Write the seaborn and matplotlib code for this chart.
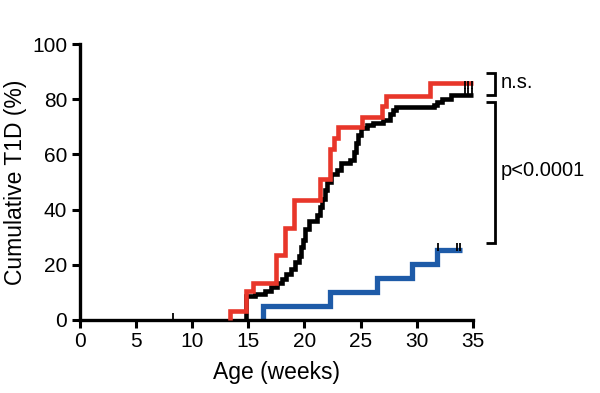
import numpy as np
import pandas as pd
import matplotlib
matplotlib.use("Agg")
import matplotlib.pyplot as plt
import seaborn as sns

# ---- data ----
red_weeks = [13.4, 13.4, 14.8, 15.4, 17.5, 18.3, 19.1, 21.4, 22.3, 22.6, 23.0, 25.1, 26.9, 27.3, 31.2, 35.0]
red_pct   = [0.0, 3.4, 10.3, 13.4, 23.5, 33.2, 43.3, 51.0, 62.0, 66.0, 70.0, 73.5, 77.5, 81.0, 85.8, 85.8]

black_weeks = [14.8, 14.8, 15.6, 16.5, 17.0, 17.6, 18.0, 18.4, 18.8, 19.2, 19.5, 19.7, 19.9, 20.1, 20.4,
               21.1, 21.4, 21.6, 21.8, 22.0, 22.4, 22.9, 23.3, 24.1, 24.4, 24.6, 24.8, 25.0, 25.6,
               26.1, 27.0, 27.6, 27.9, 28.2, 31.5, 31.8, 32.3, 33.1, 35.0]
black_pct   = [0.0, 8.5, 9.5, 10.5, 12.0, 13.5, 15.0, 16.5, 18.5, 21.0, 23.0, 26.5, 29.0, 33.0, 36.0,
               38.0, 41.0, 44.0, 47.0, 50.0, 53.0, 54.5, 56.8, 58.0, 61.0, 64.0, 67.0, 69.4, 70.5,
               71.5, 72.5, 74.5, 76.0, 77.0, 78.0, 79.0, 80.0, 81.5, 81.5]

blue_weeks = [16.3, 16.3, 22.3, 26.5, 29.6, 31.8, 34.0]
blue_pct   = [0.0, 5.1, 10.0, 15.1, 20.2, 25.4, 25.4]

# censored observations
cens_red_weeks = [34.3, 34.6, 34.9]
cens_red_pct = [85.0, 85.0, 85.0]
cens_black_weeks = [8.3, 34.3, 34.6, 34.9]
cens_black_pct = [1.0, 82.5, 82.5, 82.5]
cens_blue_weeks = [31.9, 33.6, 33.9]
cens_blue_pct = [26.3, 26.3, 26.3]

groups = ["red", "black", "blue"]
colors = {"red": "#E8362A", "black": "#000000", "blue": "#1E5BA8"}
widths = {"red": 3.3, "black": 3.3, "blue": 3.8}
cens_colors = {"red": "#000000", "black": "#000000", "blue": "#000000"}

x_ticks = [0, 5, 10, 15, 20, 25, 30, 35]
y_ticks = [0, 20, 40, 60, 80, 100]

df = pd.concat([
    pd.DataFrame({"week": red_weeks, "pct": red_pct, "group": "red"}),
    pd.DataFrame({"week": black_weeks, "pct": black_pct, "group": "black"}),
    pd.DataFrame({"week": blue_weeks, "pct": blue_pct, "group": "blue"}),
], ignore_index=True)

cens = pd.concat([
    pd.DataFrame({"week": cens_red_weeks, "pct": cens_red_pct, "group": "red"}),
    pd.DataFrame({"week": cens_black_weeks, "pct": cens_black_pct, "group": "black"}),
    pd.DataFrame({"week": cens_blue_weeks, "pct": cens_blue_pct, "group": "blue"}),
], ignore_index=True)

sns.set_theme(style="ticks")
plt.rcParams["font.family"] = ["Liberation Sans", "DejaVu Sans"]
plt.rcParams["text.color"] = "black"
plt.rcParams["axes.labelcolor"] = "black"
plt.rcParams["xtick.color"] = "black"
plt.rcParams["ytick.color"] = "black"
plt.rcParams["lines.solid_capstyle"] = "butt"
plt.rcParams["lines.solid_joinstyle"] = "miter"

fig = plt.figure(figsize=(6.0, 3.93), dpi=100)
ax = fig.add_axes([0.133, 0.186, 0.655, 0.702])

for g in ["black", "blue", "red"]:
    sns.lineplot(data=df[df.group == g], x="week", y="pct", color=colors[g],
                 estimator=None, drawstyle="steps-post", linewidth=widths[g],
                 ax=ax, legend=False, clip_on=False, zorder=3 if g == "red" else 2)

for g in groups:
    sub = cens[cens.group == g]
    sns.scatterplot(data=sub, x="week", y="pct", marker="|", s=30, linewidth=1.3,
                    color=cens_colors[g], ax=ax, legend=False, clip_on=False, zorder=4)

ax.set_xlim(0, 35)
ax.set_ylim(0, 100)
ax.set_xticks(x_ticks)
ax.set_yticks(y_ticks)
ax.tick_params(axis="both", labelsize=15, width=2.2, length=6, color="black",
               labelcolor="black", pad=3)
for s in ["left", "bottom"]:
    ax.spines[s].set_linewidth(2.4)
    ax.spines[s].set_color("black")
sns.despine(ax=ax)
ax.set_xlabel("Age (weeks)", fontsize=16.5, labelpad=7, color="black")
ax.set_ylabel("Cumulative T1D (%)", fontsize=16.5, labelpad=4, color="black")

# significance brackets
bk = dict(color="black", linewidth=2.0, clip_on=False, solid_joinstyle="miter")
ax.plot([36.2, 37.0, 37.0, 36.2], [89.6, 89.6, 81.7, 81.7], **bk)
ax.plot([36.2, 37.0, 37.0, 36.2], [79.1, 79.1, 28.0, 28.0], **bk)
ax.text(37.5, 86.0, "n.s.", fontsize=14.5, va="center", ha="left", clip_on=False, color="black")
ax.text(37.5, 54.0, "p<0.0001", fontsize=14.5, va="center", ha="left", clip_on=False, color="black")

fig.savefig("out.png", dpi=100)
